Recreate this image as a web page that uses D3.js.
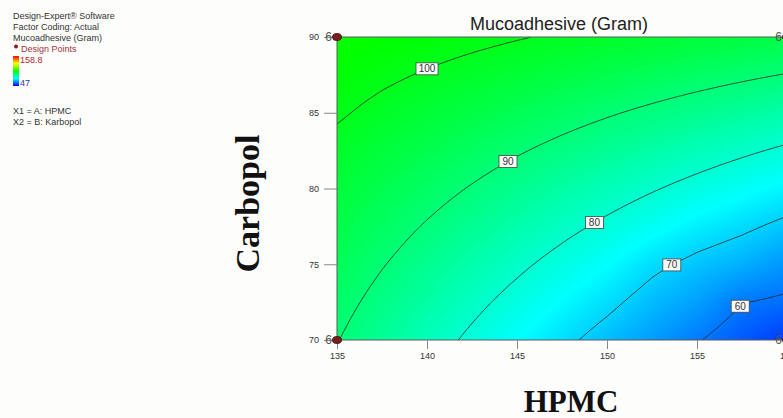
<!DOCTYPE html>
<html>
<head>
<meta charset="utf-8">
<script src="https://cdn.jsdelivr.net/npm/d3@7"></script>
<style>
  body { margin: 0; background: #fdfdfc; }
  svg { display: block; }
</style>
</head>
<body>
<div id="chart-container"></div>
<script>
// Design-Expert contour plot: Mucoadhesive (Gram) vs HPMC / Carbopol

const hpmcTicks = [135, 140, 145, 150, 155, 160];
const carbopolTicks = [70, 75, 80, 85, 90];

// response on a 2.5 x 2.5 grid
const gridHPMC = [135, 137.5, 140, 142.5, 145, 147.5, 150, 152.5, 155, 157.5, 160];
const gridCarbopol = [70, 72.5, 75, 77.5, 80, 82.5, 85, 87.5, 90];
const mucoadhesive = [
  [90.2, 86.39, 82.61, 78.85, 75.11, 71.4, 67.71, 64.05, 60.41, 56.79, 53.2],
  [91.78, 88.32, 84.88, 81.47, 78.09, 74.73, 71.39, 67.6, 64.5, 60.2, 58.9],
  [93.4, 90.29, 87.21, 84.15, 81.11, 78.1, 75.11, 71.3, 68.5, 66.29, 63.4],
  [95.08, 92.32, 89.58, 86.87, 84.19, 81.53, 78.89, 76.27, 73.3, 71.12, 68.58],
  [96.8, 94.39, 92.01, 89.65, 87.31, 85.0, 82.71, 80.45, 78.21, 75.99, 73.8],
  [98.58, 96.52, 94.48, 92.47, 90.49, 88.53, 86.59, 84.67, 82.78, 80.92, 79.08],
  [100.6, 98.69, 97.01, 95.35, 93.71, 92.1, 90.51, 88.95, 87.41, 85.89, 84.4],
  [102.4, 100.92, 99.58, 98.27, 96.99, 95.73, 94.49, 93.27, 92.08, 90.92, 89.78],
  [104.2, 103.19, 102.21, 101.25, 100.31, 99.4, 98.51, 97.65, 96.81, 95.99, 95.2]
];

const contourLevels = [60, 70, 80, 90, 100];
const labelHPMC = [157.4, 153.6, 149.3, 144.5, 140];   // where each label box sits

const designPoints = [
  { hpmc: 135, carb: 90, n: 6 },
  { hpmc: 135, carb: 70, n: 6 },
  { hpmc: 160, carb: 90, n: 6 },
  { hpmc: 160, carb: 70, n: 6 }
];

const colorRange = [47, 158.8];
const legendLines = ["Design-Expert\u00ae Software", "Factor Coding: Actual", "Mucoadhesive (Gram)"];
const factorLines = ["X1 = A: HPMC", "X2 = B: Karbopol"];

const width = 783, height = 418;
const margin = { top: 37, right: -4, bottom: 78, left: 337 };

const x = d3.scaleLinear().domain([135, 160]).range([margin.left, width - margin.right]);
const y = d3.scaleLinear().domain([70, 90]).range([height - margin.bottom, margin.top]);

const lo = colorRange[0], hi = colorRange[1], q = (hi - lo) / 4;
const color = d3.scaleLinear()
  .domain([lo, lo + q, lo + 2 * q, lo + 3 * q, hi])
  .range(["#0000ff", "#00ffff", "#00ff00", "#ffff00", "#ff0000"])
  .clamp(true);

// bilinear lookup in the grid (clamped at the edges)
function field(hv, cv) {
  let fi = (hv - gridHPMC[0]) / (gridHPMC[1] - gridHPMC[0]);
  let fj = (cv - gridCarbopol[0]) / (gridCarbopol[1] - gridCarbopol[0]);
  fi = Math.max(0, Math.min(gridHPMC.length - 1, fi));
  fj = Math.max(0, Math.min(gridCarbopol.length - 1, fj));
  let i = Math.min(Math.floor(fi), gridHPMC.length - 2);
  let j = Math.min(Math.floor(fj), gridCarbopol.length - 2);
  let tx = fi - i, ty = fj - j;
  let a = mucoadhesive[j][i], b = mucoadhesive[j][i + 1];
  let c = mucoadhesive[j + 1][i], d = mucoadhesive[j + 1][i + 1];
  return (a * (1 - tx) + b * tx) * (1 - ty) + (c * (1 - tx) + d * tx) * ty;
}

const svg = d3.select('#chart-container')
  .append('svg')
  .attr('width', width)
  .attr('height', height)
  .style('font-family', 'Arial, "Liberation Sans", sans-serif');

const pw = x(160) - x(135), ph = y(70) - y(90);

svg.append('clipPath').attr('id', 'plotClip')
  .append('rect')
  .attr('x', x(135)).attr('y', y(90))
  .attr('width', pw).attr('height', ph);

// colour fill, painted per pixel on a canvas
const canvas = document.createElement('canvas');
canvas.width = Math.round(pw);
canvas.height = Math.round(ph);
const ctx = canvas.getContext('2d');
const img = ctx.createImageData(canvas.width, canvas.height);
for (let py = 0; py < canvas.height; py++) {
  for (let px = 0; px < canvas.width; px++) {
    let v = field(x.invert(x(135) + px + 0.5), y.invert(y(90) + py + 0.5));
    let c = d3.rgb(color(v));
    let k = (py * canvas.width + px) * 4;
    img.data[k] = c.r; img.data[k + 1] = c.g; img.data[k + 2] = c.b; img.data[k + 3] = 255;
  }
}
ctx.putImageData(img, 0, 0);

const plot = svg.append('g').attr('clip-path', 'url(#plotClip)');

plot.append('image')
  .attr('x', x(135)).attr('y', y(90))
  .attr('width', canvas.width).attr('height', canvas.height)
  .attr('preserveAspectRatio', 'none')
  .attr('href', canvas.toDataURL());

// contour lines, sampled slightly past the frame so edge rings get clipped
const step = 2, pad = 4;
const nx = Math.ceil((pw + 2 * pad) / step), ny = Math.ceil((ph + 2 * pad) / step);
const samples = new Array(nx * ny);
for (let j = 0; j < ny; j++) {
  for (let i = 0; i < nx; i++) {
    let px = x(135) - pad + (i + 0.5) * step;
    let py = y(90) - pad + (j + 0.5) * step;
    samples[j * nx + i] = field(x.invert(px), y.invert(py));
  }
}
const contours = d3.contours().size([nx, ny]).thresholds(contourLevels)(samples);

const toPx = d3.geoTransform({
  point: function (cx, cy) {
    this.stream.point(x(135) - pad + cx * step, y(90) - pad + cy * step);
  }
});

plot.append('g')
  .attr('fill', 'none')
  .attr('stroke', '#2a2a2a')
  .attr('stroke-width', 0.8)
  .selectAll('path')
  .data(contours)
  .join('path')
  .attr('d', d3.geoPath(toPx));

// contour labels
function levelY(level, hv) {
  let a = 70, b = 90;
  for (let k = 0; k < 40; k++) {
    let m = (a + b) / 2;
    if (field(hv, m) < level) a = m; else b = m;
  }
  return (a + b) / 2;
}

const labels = plot.append('g')
  .selectAll('g')
  .data(contourLevels.map((lv, i) => ({ lv, h: labelHPMC[i] })))
  .join('g')
  .attr('transform', d => `translate(${x(d.h)},${y(levelY(d.lv, d.h))})`);

labels.append('rect')
  .attr('y', -6)
  .attr('width', d => String(d.lv).length > 2 ? 22 : 18)
  .attr('x', d => String(d.lv).length > 2 ? -11 : -9)
  .attr('height', 12)
  .attr('fill', '#fbfbfb')
  .attr('stroke', '#444')
  .attr('stroke-width', 0.8);

labels.append('text')
  .attr('text-anchor', 'middle')
  .attr('dy', '0.35em')
  .attr('font-size', 10)
  .attr('fill', '#333')
  .text(d => d.lv);

// frame
svg.append('rect')
  .attr('x', x(135)).attr('y', y(90))
  .attr('width', pw).attr('height', ph)
  .attr('fill', 'none')
  .attr('stroke', '#5a5a5a')
  .attr('stroke-width', 1);

// axes
svg.append('g')
  .attr('transform', `translate(${x(135)},0)`)
  .call(d3.axisLeft(y).tickValues(carbopolTicks).tickSize(13).tickPadding(5).tickSizeOuter(0))
  .call(g => g.select('.domain').remove())
  .call(g => g.selectAll('line').attr('stroke', '#888'))
  .call(g => g.selectAll('text').attr('font-size', 9).attr('fill', '#333')
    .style('font-family', 'Arial, "Liberation Sans", sans-serif'));

svg.append('g')
  .attr('transform', `translate(0,${y(70)})`)
  .call(d3.axisBottom(x).tickValues(hpmcTicks).tickSize(9).tickPadding(4).tickSizeOuter(0))
  .call(g => g.select('.domain').remove())
  .call(g => g.selectAll('line').attr('stroke', '#888'))
  .call(g => g.selectAll('text').attr('font-size', 9).attr('fill', '#333')
    .style('font-family', 'Arial, "Liberation Sans", sans-serif'));

// design points
const dp = svg.append('g').selectAll('g')
  .data(designPoints)
  .join('g')
  .attr('transform', d => `translate(${x(d.hpmc)},${y(d.carb)})`);

dp.append('ellipse')
  .attr('rx', 4.5).attr('ry', 3.5)
  .attr('fill', '#7d1c1c')
  .attr('stroke', '#3b0b0b')
  .attr('stroke-width', 0.8);

dp.append('text')
  .attr('x', -5).attr('dy', '0.3em')
  .attr('text-anchor', 'end')
  .attr('font-size', 12)
  .attr('fill', '#555')
  .text(d => d.n);

// titles
svg.append('text')
  .attr('x', 559)
  .attr('y', 30)
  .attr('text-anchor', 'middle')
  .attr('font-size', 18)
  .attr('fill', '#222')
  .text('Mucoadhesive (Gram)');

svg.append('text')
  .attr('transform', `translate(259,${(y(70) + y(90)) / 2 + 15}) rotate(-90)`)
  .attr('text-anchor', 'middle')
  .attr('font-family', '"Liberation Serif", "Times New Roman", serif')
  .attr('font-weight', 'bold')
  .attr('font-size', 34)
  .attr('fill', '#111')
  .text('Carbopol');

svg.append('text')
  .attr('x', 571)
  .attr('y', 412)
  .attr('text-anchor', 'middle')
  .attr('font-family', '"Liberation Serif", "Times New Roman", serif')
  .attr('font-weight', 'bold')
  .attr('font-size', 31)
  .attr('fill', '#111')
  .text('HPMC');

// legend block
const leg = svg.append('g').attr('font-size', 9).attr('fill', '#333');
leg.selectAll('text.info')
  .data(legendLines)
  .join('text')
  .attr('class', 'info')
  .attr('x', 13)
  .attr('y', (d, i) => 19 + i * 11)
  .text(d => d);

leg.append('circle').attr('cx', 16).attr('cy', 46.5).attr('r', 2).attr('fill', '#8b1a1a');
leg.append('text').attr('x', 21).attr('y', 52).attr('fill', '#a3343a').text('Design Points');

const grad = svg.append('defs').append('linearGradient')
  .attr('id', 'legGrad')
  .attr('x1', 0).attr('y1', 1).attr('x2', 0).attr('y2', 0);
color.domain().forEach(v => {
  grad.append('stop')
    .attr('offset', (v - lo) / (hi - lo))
    .attr('stop-color', color(v));
});
leg.append('rect')
  .attr('x', 13).attr('y', 56)
  .attr('width', 6).attr('height', 30)
  .attr('fill', 'url(#legGrad)');
leg.append('text').attr('x', 20).attr('y', 63).attr('fill', '#b0282d').text(colorRange[1]);
leg.append('text').attr('x', 20).attr('y', 86).attr('fill', '#2b3aa8').text(colorRange[0]);

leg.selectAll('text.factor')
  .data(factorLines)
  .join('text')
  .attr('class', 'factor')
  .attr('x', 13)
  .attr('y', (d, i) => 114 + i * 11)
  .text(d => d);
</script>
</body>
</html>
